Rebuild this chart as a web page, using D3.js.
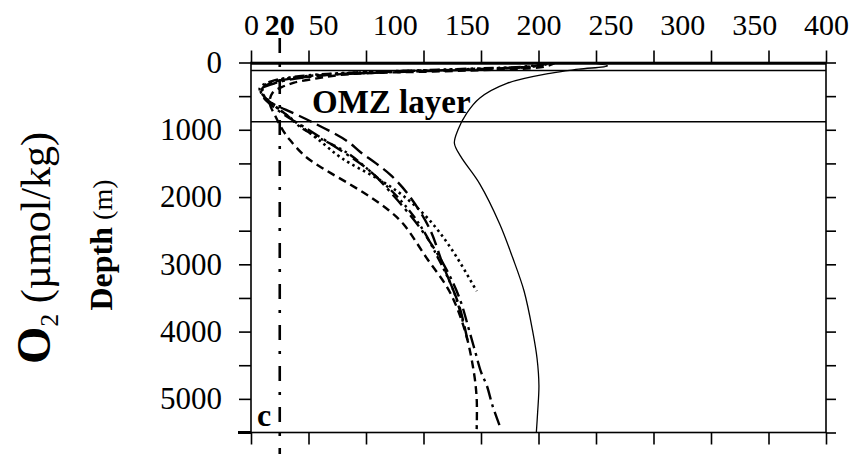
<!DOCTYPE html>
<html lang="en">
<head>
  <meta charset="UTF-8" />
  <title>O2 profiles</title>
  <style>
    body { margin: 0; background: #fff; }
    svg { display: block; font-family: "Liberation Serif", "Times New Roman", serif; }
  </style>
</head>
<body>
  <svg id="chart" width="854" height="454"></svg>

  <script src="https://d3js.org/d3.v7.min.js"></script>
  <script>
    // observed profile (solid)
    const obsDepth = [0, 50, 100, 160, 310, 530, 755, 1000, 1200, 1400, 1800, 2400, 2900, 3400, 4000, 4400, 4800, 5200, 5500];
    const obsO2 = [236, 248, 228, 208, 178, 159, 150, 144, 141.5, 146, 159, 173, 182, 190, 196, 199, 200.3, 199.4, 198.5];

    // model profiles
    const depthA = [0, 60, 120, 160, 190, 235, 300, 370, 450, 600, 800, 1000, 1150, 1400, 1600, 1800, 2000, 2200, 2400, 2900, 3400, 4000, 4600, 5000, 5450];
    const o2A = [212, 205, 150, 80, 60, 46, 30, 21, 15, 13, 17, 22, 27, 38, 52, 68, 83, 96, 106, 122, 138, 149, 155, 157, 157];

    const depthB = [0, 50, 100, 150, 200, 280, 380, 480, 600, 700, 880, 1170, 1330, 1500, 1670, 1950, 2460, 3035, 3630, 4170];
    const o2B = [208, 200, 155, 85, 45, 18, 8, 8, 14, 24, 42, 67, 76, 87, 97, 109, 124, 134, 145, 151];

    const depthC = [0, 50, 100, 150, 200, 270, 350, 450, 600, 800, 1000, 1200, 1375, 1500, 1750, 2000, 2340, 2790, 3400];
    const o2C = [210, 200, 150, 75, 40, 18, 9, 8, 14, 26, 38, 50, 60, 69, 90, 107, 124, 140, 157];

    const depthD = [0, 50, 100, 150, 200, 300, 400, 500, 700, 1000, 1300, 1600, 2000, 2500, 3000, 3500, 4000, 4300, 4600, 4800, 5100, 5400];
    const o2D = [205, 198, 160, 90, 45, 18, 7, 8, 18, 40, 62, 82, 100, 119, 134, 145, 152, 156, 160, 164, 168, 173];

    const depthE = [0, 50, 100, 150, 200, 280, 380, 500, 650, 800, 955, 1150, 1330, 1600, 2000, 2400, 2900, 3400, 3900];
    const o2E = [206, 195, 140, 70, 35, 14, 6, 9, 17, 26, 34, 50, 66, 82, 102, 117, 130, 141, 148];

    const threshold = 20;
    const omzTop = 120, omzBottom = 880;

    const xTicks = d3.range(0, 401, 40);
    const xLabels = [0, 50, 100, 150, 200, 250, 300, 350, 400];
    const yTicks = d3.range(0, 5501, 500);
    const yLabels = [0, 1000, 2000, 3000, 4000, 5000];

    const svg = d3.select("#chart");
    const x = d3.scaleLinear().domain([0, 400]).range([251, 826]);
    const y = d3.scaleLinear().domain([0, 5500]).range([62.5, 432.5]);

    svg.append("defs").append("clipPath").attr("id", "plotClip")
      .append("rect")
      .attr("x", x(0)).attr("y", y(0))
      .attr("width", x(400) - x(0)).attr("height", y(5500) - y(0));

    const styleAxis = (g, size) => {
      g.attr("font-family", null).attr("font-size", size);
      g.selectAll("line").attr("stroke", "#000").attr("stroke-width", 1.6);
      g.selectAll("text").attr("fill", "#000");
    };

    // ticks on the four sides
    svg.append("g").attr("transform", `translate(0,${y(0)})`)
      .call(d3.axisTop(x).tickValues(xTicks).tickSize(12).tickSizeOuter(0).tickFormat(""))
      .call(g => g.select(".domain").remove())
      .call(styleAxis, 30);
    svg.append("g").attr("transform", `translate(0,${y(5500)})`)
      .call(d3.axisBottom(x).tickValues(xTicks).tickSize(12).tickSizeOuter(0).tickFormat(""))
      .call(g => g.select(".domain").remove())
      .call(styleAxis, 30);
    svg.append("g").attr("transform", `translate(${x(0)},0)`)
      .call(d3.axisLeft(y).tickValues(yTicks).tickSize(12).tickSizeOuter(0).tickFormat(""))
      .call(g => g.select(".domain").remove())
      .call(styleAxis, 30);
    svg.append("g").attr("transform", `translate(${x(400)},0)`)
      .call(d3.axisRight(y).tickValues(yTicks).tickSize(10).tickSizeOuter(0).tickFormat(""))
      .call(g => g.select(".domain").remove())
      .call(styleAxis, 30);

    // labels
    svg.append("g").attr("transform", "translate(0,35)")
      .call(d3.axisTop(x).tickValues(xLabels).tickSize(0).tickPadding(0).tickFormat(d3.format("d")))
      .call(g => g.select(".domain").remove())
      .call(styleAxis, 30);
    svg.append("text")
      .attr("x", x(threshold)).attr("y", 35)
      .attr("text-anchor", "middle").attr("font-size", 30).attr("font-weight", "bold")
      .text(threshold);
    svg.append("g").attr("transform", `translate(${x(0)},0)`)
      .call(d3.axisLeft(y).tickValues(yLabels).tickSize(0).tickPadding(29).tickFormat(d3.format("d")))
      .call(g => g.select(".domain").remove())
      .call(styleAxis, 31);

    // frame and OMZ band
    svg.append("rect")
      .attr("x", x(0)).attr("y", y(0))
      .attr("width", x(400) - x(0)).attr("height", y(5500) - y(0))
      .attr("fill", "none").attr("stroke", "#000").attr("stroke-width", 1.6);
    svg.append("line")
      .attr("x1", x(0)).attr("x2", x(400)).attr("y1", y(0) + 1).attr("y2", y(0) + 1)
      .attr("stroke", "#000").attr("stroke-width", 2.6);
    svg.append("line")
      .attr("x1", x(0) - 13).attr("x2", x(0)).attr("y1", y(5500)).attr("y2", y(5500))
      .attr("stroke", "#000").attr("stroke-width", 3);
    [omzTop, omzBottom].forEach(d => {
      svg.append("line")
        .attr("x1", x(0)).attr("x2", x(400)).attr("y1", y(d)).attr("y2", y(d))
        .attr("stroke", "#000").attr("stroke-width", 1.5);
    });

    // 20 umol/kg threshold
    svg.append("line")
      .attr("x1", x(threshold)).attr("x2", x(threshold))
      .attr("y1", 38).attr("y2", 454)
      .attr("stroke", "#000").attr("stroke-width", 2.6)
      .attr("stroke-dasharray", "15,11,3,12");

    const line = d3.line()
      .x(d => x(d[1]))
      .y(d => y(d[0]))
      .curve(d3.curveCatmullRom.alpha(0.5));

    const plot = svg.append("g").attr("clip-path", "url(#plotClip)");
    const profiles = [
      { depth: obsDepth, o2: obsO2, width: 1.3, dash: null },
      { depth: depthA, o2: o2A, width: 2.4, dash: "8,5" },
      { depth: depthB, o2: o2B, width: 2.4, dash: "14,6" },
      { depth: depthC, o2: o2C, width: 2.6, dash: "2.5,3.5" },
      { depth: depthD, o2: o2D, width: 2.4, dash: "14,5,3,5" },
      { depth: depthE, o2: o2E, width: 2.4, dash: "10,4,2.5,4,2.5,4" }
    ];
    profiles.forEach(p => {
      plot.append("path")
        .datum(d3.zip(p.depth, p.o2))
        .attr("d", line)
        .attr("fill", "none")
        .attr("stroke", "#000")
        .attr("stroke-width", p.width)
        .attr("stroke-dasharray", p.dash);
    });

    svg.append("text")
      .attr("x", 312).attr("y", 113)
      .attr("font-size", 33).attr("font-weight", "bold")
      .text("OMZ layer");

    svg.append("text")
      .attr("x", 257).attr("y", 426)
      .attr("font-size", 32).attr("font-weight", "bold")
      .text("c");

    // rotated titles
    const o2Title = svg.append("text")
      .attr("transform", "translate(50,248) rotate(-90)")
      .attr("text-anchor", "middle");
    o2Title.append("tspan").attr("font-size", 48).attr("font-weight", "bold").text("O");
    o2Title.append("tspan").attr("font-size", 26).attr("dy", 8).text("2");
    o2Title.append("tspan").attr("font-size", 42).attr("dy", -8).text(" (µmol/kg)");

    const depthTitle = svg.append("text")
      .attr("transform", "translate(112,245) rotate(-90)")
      .attr("text-anchor", "middle");
    depthTitle.append("tspan").attr("font-size", 32).attr("font-weight", "bold").text("Depth");
    depthTitle.append("tspan").attr("font-size", 28).text(" (m)");
  </script>
</body>
</html>
